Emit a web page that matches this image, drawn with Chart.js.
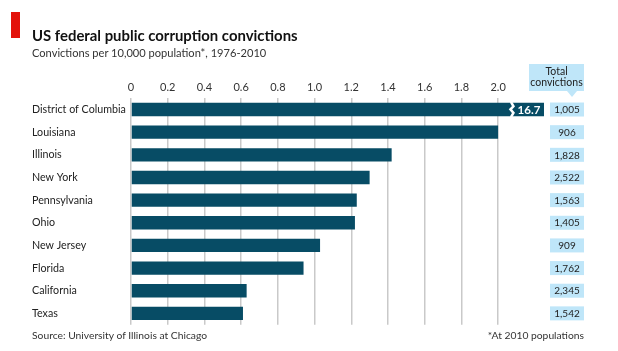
<!DOCTYPE html>
<html>
<head>
<meta charset="utf-8">
<title>US federal public corruption convictions</title>
<script src="https://cdn.jsdelivr.net/npm/chart.js@4.4.1/dist/chart.umd.min.js"></script>
<style>
    html, body { margin: 0; padding: 0; background: #fff; }
    #wrap { position: relative; width: 618px; height: 351px; overflow: hidden; font-family: Lato, sans-serif; }
    #chart { position: absolute; left: 0; top: 0; }
    .red-tag { position: absolute; left: 11px; top: 12px; width: 9px; height: 26px; background: #e3120b; }
    .title { position: absolute; left: 32px; top: 26px; font-size: 14.9px; line-height: 18px; font-weight: bold; color: #111; white-space: nowrap; }
    .subtitle { position: absolute; left: 32px; top: 46px; font-size: 11.1px; line-height: 14px; color: #333; white-space: nowrap; }
    .source { position: absolute; left: 32px; top: 329px; font-size: 10.3px; line-height: 13px; color: #333; white-space: nowrap; }
    .note { position: absolute; right: 34px; top: 329px; font-size: 10.3px; line-height: 13px; color: #333; white-space: nowrap; }
</style>
</head>
<body>
<div id="wrap">
    <canvas id="chart" width="618" height="351"></canvas>
    <div class="red-tag"></div>
    <div class="title">US federal public corruption convictions</div>
    <div class="subtitle">Convictions per 10,000 population*, 1976-2010</div>
    <div class="source">Source: University of Illinois at Chicago</div>
    <div class="note">*At 2010 populations</div>
</div>
<script>
// Data
const states = ['District of Columbia', 'Louisiana', 'Illinois', 'New York', 'Pennsylvania',
    'Ohio', 'New Jersey', 'Florida', 'California', 'Texas'];
const convictionRates = [16.7, 2.0, 1.42, 1.30, 1.23, 1.22, 1.03, 0.94, 0.63, 0.61];
const totalConvictions = [1005, 906, 1828, 2522, 1563, 1405, 909, 1762, 2345, 1542];
const xTicks = [0, 0.2, 0.4, 0.6, 0.8, 1.0, 1.2, 1.4, 1.6, 1.8, 2.0];

// Axis stops here; longer bars get a break and their value written in
const axisCap = 2.25;
const breakAt = 2.07;

const barColor = '#074c65';
const boxColor = '#bfe6f9';

// Draw the break on overflowing bars and the totals column
const extrasPlugin = {
    id: 'extras',
    afterDatasetsDraw(chart) {
        const ctx = chart.ctx;
        const xScale = chart.scales.x;
        const yScale = chart.scales.y;
        const meta = chart.getDatasetMeta(0);

        ctx.save();

        // broken bars
        convictionRates.forEach((v, i) => {
            if (v <= axisCap) return;
            const bar = meta.data[i];
            const top = bar.y - bar.height / 2;
            const bottom = bar.y + bar.height / 2;
            const bx = xScale.getPixelForValue(breakAt);
            ctx.strokeStyle = '#fff';
            ctx.lineWidth = 2.5;
            ctx.beginPath();
            ctx.moveTo(bx, top - 1);
            ctx.lineTo(bx + 2.5, top + 3.5);
            ctx.lineTo(bx - 0.5, top + 6.5);
            ctx.lineTo(bx + 2.5, top + 10);
            ctx.lineTo(bx, bottom + 1);
            ctx.stroke();

            ctx.fillStyle = '#fff';
            ctx.font = 'bold 11.5px Lato';
            ctx.textAlign = 'center';
            ctx.textBaseline = 'middle';
            ctx.fillText(v.toFixed(1), (bx + 3 + bar.x) / 2, bar.y + 0.5);
        });

        // totals header
        ctx.fillStyle = boxColor;
        ctx.fillRect(529, 64, 55, 27);
        ctx.beginPath();
        ctx.moveTo(567, 91);
        ctx.lineTo(577, 91);
        ctx.lineTo(572, 97);
        ctx.closePath();
        ctx.fill();
        ctx.fillStyle = '#222';
        ctx.font = '10.5px Lato';
        ctx.textAlign = 'center';
        ctx.textBaseline = 'middle';
        ctx.fillText('Total', 556.5, 71.5);
        ctx.fillText('convictions', 556.5, 83);

        // totals boxes
        totalConvictions.forEach((t, i) => {
            const yc = yScale.getPixelForValue(i);
            ctx.fillStyle = boxColor;
            ctx.fillRect(550, yc - 7, 34, 14);
            ctx.fillStyle = '#222';
            ctx.font = '10px Lato';
            ctx.fillText(t.toLocaleString('en-US'), 567, yc + 0.5);
        });

        ctx.restore();
    }
};

function init() {
    const ctx = document.getElementById('chart');
    new Chart(ctx, {
        type: 'bar',
        data: {
            labels: states,
            datasets: [{
                data: convictionRates.map(v => Math.min(v, axisCap)),
                backgroundColor: barColor,
                borderWidth: 0,
                barPercentage: 0.59,
                categoryPercentage: 1
            }]
        },
        options: {
            indexAxis: 'y',
            responsive: false,
            animation: false,
            layout: {
                padding: { left: 32, right: 74, top: 77, bottom: 26.3 }
            },
            plugins: {
                legend: { display: false },
                tooltip: { enabled: false },
                title: { display: false }
            },
            scales: {
                x: {
                    position: 'top',
                    min: 0,
                    max: axisCap,
                    afterBuildTicks: scale => {
                        scale.ticks = xTicks.map(v => ({ value: v }));
                    },
                    ticks: {
                        callback: v => v === 0 ? '0' : v.toFixed(1),
                        color: '#333',
                        font: { family: 'Lato', size: 11 },
                        padding: 4,
                        maxRotation: 0,
                        autoSkip: false
                    },
                    grid: { color: '#c9c9c9', lineWidth: 1.5, drawTicks: false },
                    border: { display: false }
                },
                y: {
                    afterFit: scale => { scale.width = 99; },
                    ticks: {
                        crossAlign: 'far',
                        color: '#222',
                        font: { family: 'Lato', size: 10.7 },
                        padding: 0
                    },
                    grid: { display: false },
                    border: { display: false }
                }
            }
        },
        plugins: [extrasPlugin]
    });
}

document.addEventListener('DOMContentLoaded', init);
</script>
</body>
</html>
